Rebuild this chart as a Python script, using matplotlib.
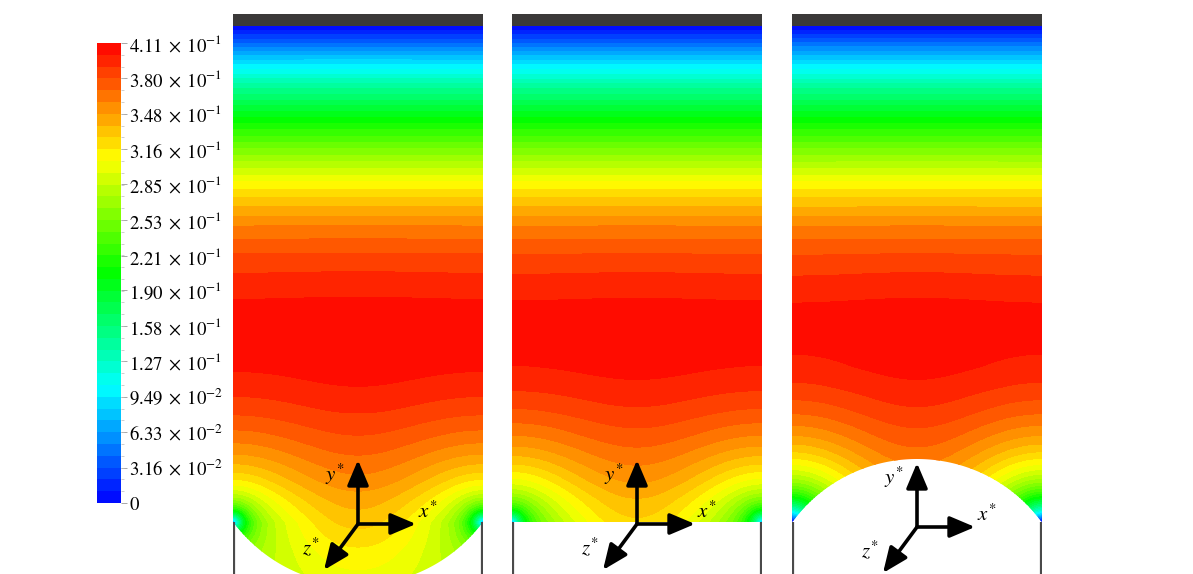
import numpy as np
import matplotlib
matplotlib.use("Agg")
import matplotlib.pyplot as plt
from matplotlib.colors import LinearSegmentedColormap
from matplotlib.patches import Polygon, Rectangle, FancyArrowPatch

plt.rcParams['mathtext.fontset'] = 'stix'
plt.rcParams['font.family'] = ['Liberation Serif', 'DejaVu Serif']

# vertical velocity profile read along the middle of the channel
# (height above the bottom wall level in px, value)
prof_y = [-80, -60, -30, 0, 22, 42, 67, 87, 112, 135, 155, 177, 200, 219,
          232, 252, 272, 295, 322, 339, 372, 402, 432, 454, 469, 482, 496, 510]
prof_v = [0.300, 0.310, 0.325, 0.343, 0.354, 0.366, 0.378, 0.387, 0.397,
          0.4045, 0.409, 0.411, 0.409, 0.4045, 0.398, 0.39, 0.378, 0.36,
          0.33, 0.308, 0.255, 0.205, 0.15, 0.103, 0.068, 0.035, 0.0, 0.0]

# colour bar ticks
cb_ticks = [0.411, 0.380, 0.348, 0.316, 0.285, 0.253, 0.221, 0.190,
            0.158, 0.127, 0.0949, 0.0633, 0.0316, 0.0]
cb_labels = [r'$4.11\;\times\;10^{-1}$', r'$3.80\;\times\;10^{-1}$', r'$3.48\;\times\;10^{-1}$',
             r'$3.16\;\times\;10^{-1}$', r'$2.85\;\times\;10^{-1}$', r'$2.53\;\times\;10^{-1}$',
             r'$2.21\;\times\;10^{-1}$', r'$1.90\;\times\;10^{-1}$', r'$1.58\;\times\;10^{-1}$',
             r'$1.27\;\times\;10^{-1}$', r'$9.49\;\times\;10^{-2}$', r'$6.33\;\times\;10^{-2}$',
             r'$3.16\;\times\;10^{-2}$', r'$0$']

# per panel: bottom shape, side dip, corner loss (near amplitude/size, far amplitude)
shapes = ['bowl', 'flat', 'bump']
dips = [0.10, 0.10, 0.20]
corner_near = [0.19, 0.15, 0.20]
near_size = [11.0, 10.0, 17.0]
corner_far = [0.06, 0.09, 0.09]
panel_left = [233, 512, 792]

W = 250.0
TOP = 496.0
R_ARC = 155.0
C_ARC = 92.0

cmap = LinearSegmentedColormap.from_list(
    'rb', ['#0000ff', '#00ffff', '#00ff00', '#ffff00', '#ff0000'])
levels = np.linspace(0, 0.411, 40)


def field(x, y, dip, a1, l1, a2):
    v = np.interp(y, prof_y, prof_v)
    side = (1 + np.cos(2 * np.pi * x / W)) / 2
    v = v * (1 - dip * np.exp(-np.abs(y) / 60.0) * side)
    for cx in (0, W):
        r = np.hypot(x - cx, y)
        v = v - a1 * np.exp(-r / l1) - a2 * np.exp(-r / 55.0)
    return np.clip(v, 1e-4, 0.411 - 1e-4)


def domain(shape):
    xs = np.linspace(W, 0, 200)
    if shape == 'bowl':
        ys = C_ARC - np.sqrt(R_ARC**2 - (xs - W / 2)**2)
    elif shape == 'bump':
        ys = -C_ARC + np.sqrt(R_ARC**2 - (xs - W / 2)**2)
    else:
        ys = np.zeros_like(xs)
    pts = [(0, TOP), (W, TOP)] + list(zip(xs, ys))
    return np.array(pts)


fig = plt.figure(figsize=(11.93, 5.74), dpi=100)
FW, FH = 1193.0, 574.0

gx = np.linspace(0, W, 301)
gy = np.linspace(-80, TOP + 4, 700)
X, Y = np.meshgrid(gx, gy)

for i in range(3):
    ax = fig.add_axes([panel_left[i] / FW, 0, W / FW, 560 / FH])
    ax.set_xlim(0, W)
    ax.set_ylim(-52, 508)
    ax.axis('off')
    V = field(X, Y, dips[i], corner_near[i], near_size[i], corner_far[i])
    cs = ax.contourf(X, Y, V, levels=levels, cmap=cmap)
    poly = Polygon(domain(shapes[i]), closed=True, transform=ax.transData,
                   facecolor='none', edgecolor='none')
    ax.add_patch(poly)
    cs.set_clip_path(poly)
    # dark top lid
    ax.add_patch(Rectangle((0, TOP), W, 12, facecolor='#3b3939', edgecolor='none'))
    # side walls below the bottom level
    for wx in (0.8, W - 0.8):
        ax.plot([wx, wx], [0, -52], color='#4a4a4a', lw=1.6, solid_capstyle='butt')
    # coordinate axes glyph
    o = (125, -2 if i < 2 else -5)
    for dx, dy in [(0, 64), (58, 0), (-34, -46)]:
        ax.add_patch(FancyArrowPatch(o, (o[0] + dx, o[1] + dy),
                                     arrowstyle='-|>,head_width=0.36,head_length=0.85',
                                     mutation_scale=18, lw=2.6, color='black',
                                     shrinkA=0, shrinkB=0))
    ax.text(o[0] - 14, o[1] + 50, r'$y^{*}$', fontsize=15, ha='right', va='center')
    ax.text(o[0] + 60, o[1] + 12, r'$x^{*}$', fontsize=15, ha='left', va='center')
    ax.text(o[0] - 38, o[1] - 24, r'$z^{*}$', fontsize=15, ha='right', va='center')

cax = fig.add_axes([97 / FW, (574 - 503) / FH, 24 / FW, 460 / FH])
cb = fig.colorbar(cs, cax=cax, ticks=cb_ticks)
cb.ax.set_ylim(0, 0.411)
cb.set_ticklabels(cb_labels)
cb.outline.set_visible(False)
cb.ax.tick_params(which='major', length=4, width=0.6, color='#999999',
                  labelsize=13.5, pad=2)
cb.ax.set_yticks(levels, minor=True)
cb.ax.tick_params(which='minor', length=2, width=0.5, color='#bbbbbb')

fig.savefig('out.png', dpi=100)
